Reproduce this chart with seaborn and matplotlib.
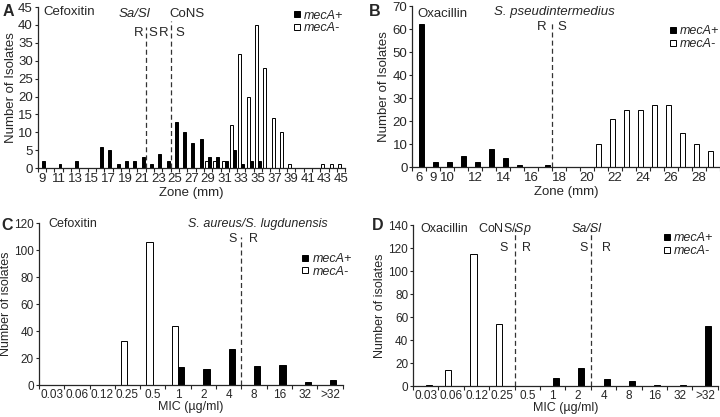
import numpy as np
import pandas as pd
import matplotlib
matplotlib.use("Agg")
import matplotlib.pyplot as plt
from matplotlib.lines import Line2D
import seaborn as sns

# ---------------- data ----------------
A_zones = [str(z) for z in range(9, 46)]
A_pos = [2, 0, 1, 0, 2, 0, 0, 6, 5,
         1, 2, 2, 3, 1, 4, 2, 13, 10,
         7, 8, 3, 3, 2, 5, 1, 2, 2,
         0, 0, 0, 0, 0, 0, 0, 0, 0, 0]
A_neg = [0] * 20 + [2, 2, 2, 12, 32, 20, 40, 28, 14, 10, 1, 0, 0, 0, 1, 1, 1]
A_labels = [z if int(z) % 2 == 1 else "" for z in A_zones]

B_zones = ["6"] + [str(z) for z in range(9, 30)]
B_pos = [62, 2, 2, 5, 2, 8, 4, 1, 0, 1] + [0] * 12
B_neg = [0] * 13 + [10, 21, 25, 25, 27, 27, 15, 10, 7]
B_labels = [z if (z in ("6", "9", "10") or int(z) % 2 == 0) else "" for z in B_zones]

MIC = ["0.03", "0.06", "0.12", "0.25", "0.5", "1", "2", "4", "8", "16", "32", ">32"]
C_neg = [0, 0, 0, 33, 106, 44, 0, 0, 0, 0, 0, 0]
C_pos = [0, 0, 0, 0, 0, 13, 12, 27, 14, 15, 2, 4]
D_neg = [0, 14, 115, 54, 0, 0, 0, 0, 0, 0, 0, 0]
D_pos = [1, 0, 0, 0, 0, 7, 16, 6, 4, 1, 1, 52]

GENES = ["mecA-", "mecA+"]

# ---------------- style ----------------
sns.set_style("ticks")
plt.rcParams["font.family"] = ["Liberation Sans", "DejaVu Sans"]
plt.rcParams["mathtext.fontset"] = "custom"
plt.rcParams["mathtext.rm"] = "Liberation Sans"
plt.rcParams["mathtext.it"] = "Liberation Sans:italic"
plt.rcParams["axes.linewidth"] = 0.9

fig = plt.figure(figsize=(7.2, 4.17), dpi=100)


def make_df(cats, neg, pos):
    return pd.DataFrame({
        "cat": cats + cats,
        "count": neg + pos,
        "gene": ["mecA-"] * len(cats) + ["mecA+"] * len(cats),
    })


def panel(rect, cats, neg, pos, labels, width, ymax, ystep, ylabel, xlabel,
          ylab_x, xlab_y, fs, tfs, yfs, xpad, leg_anchor, letter, letter_xy):
    ax = fig.add_axes(rect)
    df = make_df(cats, neg, pos)
    sns.barplot(data=df, x="cat", y="count", hue="gene", order=cats,
                hue_order=GENES, palette={"mecA-": "white", "mecA+": "black"},
                edgecolor="black", linewidth=0.7, width=width, errorbar=None,
                saturation=1, legend=False, ax=ax)
    n = len(cats)
    ax.set_xlim(-0.5, n - 0.5)
    ax.set_ylim(0, ymax)
    ax.set_yticks(np.arange(0, ymax + 0.1, ystep))
    ax.set_xticks(np.arange(n))
    ax.set_xticklabels(labels, fontsize=tfs)
    ax.tick_params(axis="x", which="major", length=0, pad=xpad)
    ax.set_xticks(np.arange(n + 1) - 0.5, minor=True)
    ax.tick_params(axis="x", which="minor", length=3, width=0.8, direction="out")
    ax.tick_params(axis="y", length=2.5, width=0.8, direction="out", labelsize=yfs, pad=1)
    for s in ("top", "right"):
        ax.spines[s].set_visible(False)
    ax.set_ylabel(ylabel, fontsize=fs)
    ax.set_xlabel(xlabel, fontsize=fs)
    ax.yaxis.set_label_coords(ylab_x, 0.5)
    ax.xaxis.set_label_coords(0.5, xlab_y)
    handles = [Line2D([], [], marker="s", ls="", markersize=4.5,
                      markerfacecolor="black", markeredgecolor="black", markeredgewidth=0.7),
               Line2D([], [], marker="s", ls="", markersize=4.5,
                      markerfacecolor="white", markeredgecolor="black", markeredgewidth=0.7)]
    ax.legend(handles, ["mecA+", "mecA-"], loc="upper left", bbox_to_anchor=leg_anchor,
              frameon=False, prop={"style": "italic", "size": 9},
              handlelength=0.6, handletextpad=0.25, labelspacing=0.05, borderpad=0,
              borderaxespad=0)
    fig.text(letter_xy[0], letter_xy[1], letter, fontsize=11.5, fontweight="bold",
             ha="left", va="center")
    return ax


DASH = dict(color="#333333", ls=(0, (4, 2.5)), lw=0.9)

# ---------------- Panel A ----------------
axA = panel([0.0524, 0.597, 0.427, 0.386], A_zones, A_neg, A_pos, A_labels, 0.72,
            45, 5, "Number of Isolates", "Zone (mm)", -0.068, -0.118, 9.5, 9.5, 9.5, 3.5,
            (0.83, 0.985), "A", (0.003, 0.972))
axA.axvline(12.5, ymin=0, ymax=0.876, **DASH)
axA.axvline(15.5, ymin=0, ymax=0.913, **DASH)
trA = axA.get_xaxis_transform()
axA.text(0.017, 0.969, "Cefoxitin", transform=axA.transAxes, fontsize=9.5, ha="left", va="center")
axA.text(13.1, 0.955, "Sa/Sl", transform=trA, fontsize=9.5, style="italic", ha="right", va="center")
axA.text(15.3, 0.955, "CoNS", transform=trA, fontsize=9.5, ha="left", va="center")
for x, t in [(11.6, "R"), (13.4, "S"), (14.7, "R"), (16.6, "S")]:
    axA.text(x, 0.84, t, transform=trA, fontsize=9.5, ha="center", va="center")

# ---------------- Panel B ----------------
axB = panel([0.5726, 0.5995, 0.4274, 0.386], B_zones, B_neg, B_pos, B_labels, 0.66,
            70, 10, "Number of Isolates", "Zone (mm)", -0.071, -0.118, 9.5, 9.5, 9.5, 3.5,
            (0.835, 0.88), "B", (0.512, 0.972))
axB.axvline(9.5, ymin=0, ymax=0.90, **DASH)
trB = axB.get_xaxis_transform()
axB.text(0.098, 0.95, "Oxacillin", transform=axB.transAxes, fontsize=9.5, ha="center", va="center")
axB.text(9.67, 0.963, "S. pseudintermedius", transform=trB, fontsize=9.5, style="italic",
         ha="center", va="center")
axB.text(8.74, 0.87, "R", transform=trB, fontsize=9.5, ha="center", va="center")
axB.text(10.19, 0.87, "S", transform=trB, fontsize=9.5, ha="center", va="center")

# ---------------- Panel C ----------------
axC = panel([0.054, 0.0767, 0.422, 0.388], MIC, C_neg, C_pos, MIC, 0.5,
            120, 20, "Number of isolates", "MIC (µg/ml)", -0.087, -0.098, 9, 8.5, 8.5, 3,
            (0.865, 0.815), "C", (0.002, 0.46))
axC.axvline(7.5, ymin=0, ymax=0.915, **DASH)
trC = axC.get_xaxis_transform()
axC.text(0.03, 0.995, "Cefoxitin", transform=axC.transAxes, fontsize=9, ha="left", va="center")
axC.text(8.16, 0.995, "S. aureus/S. lugdunensis", transform=trC, fontsize=9, style="italic",
         ha="center", va="center")
axC.text(7.17, 0.905, "S", transform=trC, fontsize=9, ha="center", va="center")
axC.text(7.99, 0.905, "R", transform=trC, fontsize=9, ha="center", va="center")

# ---------------- Panel D ----------------
axD = panel([0.5736, 0.0743, 0.4234, 0.386], MIC, D_neg, D_pos, MIC, 0.48,
            140, 20, "Number of isolates", "MIC (µg/ml)", -0.089, -0.098, 9, 8.5, 8.5, 3,
            (0.82, 0.955), "D", (0.516, 0.46))
axD.axvline(3.5, ymin=0, ymax=0.98, **DASH)
axD.axvline(6.5, ymin=0, ymax=0.98, **DASH)
trD = axD.get_xaxis_transform()
axD.text(0.023, 0.975, "Oxacillin", transform=axD.transAxes, fontsize=9, ha="left", va="center")
axD.text(3.12, 0.975, "CoNS/$\\it{Sp}$", transform=trD, fontsize=9, ha="center", va="center")
axD.text(6.33, 0.975, "Sa/Sl", transform=trD, fontsize=9, style="italic", ha="center", va="center")
for x, t in [(3.05, "S"), (3.97, "R"), (6.2, "S"), (7.12, "R")]:
    axD.text(x, 0.855, t, transform=trD, fontsize=9, ha="center", va="center")

fig.savefig("out.png", dpi=100)
